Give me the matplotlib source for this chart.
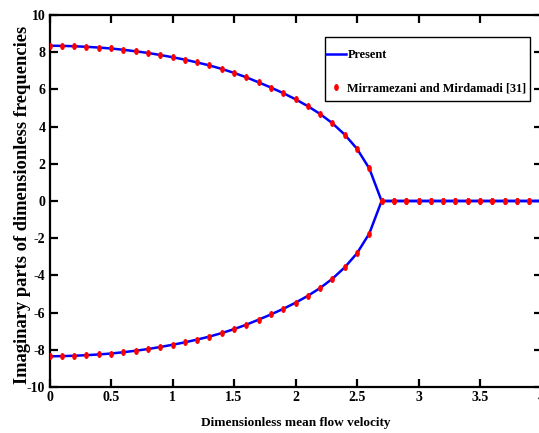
import numpy as np
import matplotlib
matplotlib.use("Agg")
import matplotlib.pyplot as plt
from matplotlib.patches import Rectangle

# ---------------- data ----------------
velocity = [0.0, 0.1, 0.2, 0.3, 0.4, 0.5, 0.6, 0.7, 0.8, 0.9,
            1.0, 1.1, 1.2, 1.3, 1.4, 1.5, 1.6, 1.7, 1.8, 1.9,
            2.0, 2.1, 2.2, 2.3, 2.4, 2.5, 2.6, 2.7, 2.8, 2.9,
            3.0, 3.1, 3.2, 3.3, 3.4, 3.5, 3.6, 3.7, 3.8, 3.9, 4.0]
present_upper = [8.35, 8.34, 8.32, 8.29, 8.25, 8.20, 8.13, 8.05, 7.96, 7.85,
                 7.73, 7.60, 7.45, 7.29, 7.10, 6.89, 6.65, 6.38, 6.10, 5.80,
                 5.47, 5.10, 4.68, 4.18, 3.57, 2.81, 1.75, 0.0, 0.0, 0.0,
                 0.0, 0.0, 0.0, 0.0, 0.0, 0.0, 0.0, 0.0, 0.0, 0.0, 0.0]
present_lower = [-8.35, -8.34, -8.32, -8.29, -8.25, -8.20, -8.13, -8.05, -7.96, -7.85,
                 -7.73, -7.60, -7.45, -7.29, -7.10, -6.89, -6.65, -6.38, -6.10, -5.80,
                 -5.47, -5.10, -4.68, -4.18, -3.57, -2.81, -1.75, 0.0, 0.0, 0.0,
                 0.0, 0.0, 0.0, 0.0, 0.0, 0.0, 0.0, 0.0, 0.0, 0.0, 0.0]

ref_velocity = [0.0, 0.1, 0.2, 0.3, 0.4, 0.5, 0.6, 0.7, 0.8, 0.9,
                1.0, 1.1, 1.2, 1.3, 1.4, 1.5, 1.6, 1.7, 1.8, 1.9,
                2.0, 2.1, 2.2, 2.3, 2.4, 2.5, 2.6, 2.7, 2.8, 2.9,
                3.0, 3.1, 3.2, 3.3, 3.4, 3.5, 3.6, 3.7, 3.8, 3.9]
ref_upper = [8.35, 8.34, 8.32, 8.29, 8.25, 8.20, 8.13, 8.05, 7.96, 7.85,
             7.73, 7.60, 7.45, 7.29, 7.10, 6.89, 6.65, 6.38, 6.10, 5.80,
             5.47, 5.10, 4.68, 4.18, 3.57, 2.81, 1.75, 0.0, 0.0, 0.0,
             0.0, 0.0, 0.0, 0.0, 0.0, 0.0, 0.0, 0.0, 0.0, 0.0]
ref_lower = [-8.35, -8.34, -8.32, -8.29, -8.25, -8.20, -8.13, -8.05, -7.96, -7.85,
             -7.73, -7.60, -7.45, -7.29, -7.10, -6.89, -6.65, -6.38, -6.10, -5.80,
             -5.47, -5.10, -4.68, -4.18, -3.57, -2.81, -1.75, 0.0, 0.0, 0.0,
             0.0, 0.0, 0.0, 0.0, 0.0, 0.0, 0.0, 0.0, 0.0, 0.0]

x_ticks = [0, 0.5, 1, 1.5, 2, 2.5, 3, 3.5, 4]
x_tick_labels = ["0", "0.5", "1", "1.5", "2", "2.5", "3", "3.5", "4"]
y_ticks = [-10, -8, -6, -4, -2, 0, 2, 4, 6, 8, 10]
y_tick_labels = ["-10", "-8", "-6", "-4", "-2", "0", "2", "4", "6", "8", "10"]

x_label = "Dimensionless mean flow velocity"
y_label = "Imaginary parts of dimensionless frequencies"
label_present = "Present"
label_ref = "Mirramezani and Mirdamadi [31]"

# ---------------- style ----------------
plt.rcParams["font.family"] = ["Liberation Serif", "DejaVu Serif"]
plt.rcParams["font.weight"] = "bold"

W, H = 539, 433
fig = plt.figure(figsize=(W / 100, H / 100), dpi=100)
ax = fig.add_axes([49.5 / W, 1 - 387 / H, 492 / W, 372 / H])

# elliptical dot (taller than wide), like the reference
t = np.linspace(0, 2 * np.pi, 40)
ellipse = list(zip(0.68 * np.cos(t), np.sin(t)))

ax.plot(velocity, present_upper, color="#0000ff", lw=1.8, label=label_present, zorder=2)
ax.plot(velocity, present_lower, color="#0000ff", lw=1.8, zorder=2)
ax.plot(ref_velocity, ref_upper, linestyle="none", marker=ellipse, markersize=5,
        markerfacecolor="#ff0000", markeredgewidth=0, label=label_ref, zorder=3)
ax.plot(ref_velocity, ref_lower, linestyle="none", marker=ellipse, markersize=5,
        markerfacecolor="#ff0000", markeredgewidth=0, zorder=3)

ax.set_xlim(0, 4)
ax.set_ylim(-10, 10)
ax.set_xticks(x_ticks)
ax.set_xticklabels(x_tick_labels)
ax.set_yticks(y_ticks)
ax.set_yticklabels(y_tick_labels)
ax.tick_params(direction="in", top=True, right=True, length=6, width=1.6,
               labelsize=10, pad=3, color="black")
for s in ax.spines.values():
    s.set_linewidth(1.6)
    s.set_color("black")

ax.set_xlabel(x_label, fontsize=9.5, fontweight="bold")
ax.xaxis.set_label_coords(0.5, -(423 - 387) / 372)
ax.xaxis.label.set_va("center")
ax.set_ylabel(y_label, fontsize=13.3, fontweight="bold")
ax.yaxis.set_label_coords((23 - 49.5) / 492, 0.49)
ax.yaxis.label.set_va("center")

leg = fig.legend(loc="upper left", bbox_to_anchor=(326 / W, 1 - 49.5 / H),
                 bbox_transform=fig.transFigure, frameon=False, borderpad=0,
                 borderaxespad=0, handlelength=1.65, handletextpad=0.1,
                 labelspacing=1.7, prop={"size": 8.8, "weight": "bold"},
                 markerscale=1.0)
fig.patches.append(Rectangle((325 / W, 1 - 101 / H), 205 / W, 64 / H,
                             transform=fig.transFigure, fill=False,
                             edgecolor="black", linewidth=1.0, zorder=5))

fig.savefig("out.png", dpi=100)
